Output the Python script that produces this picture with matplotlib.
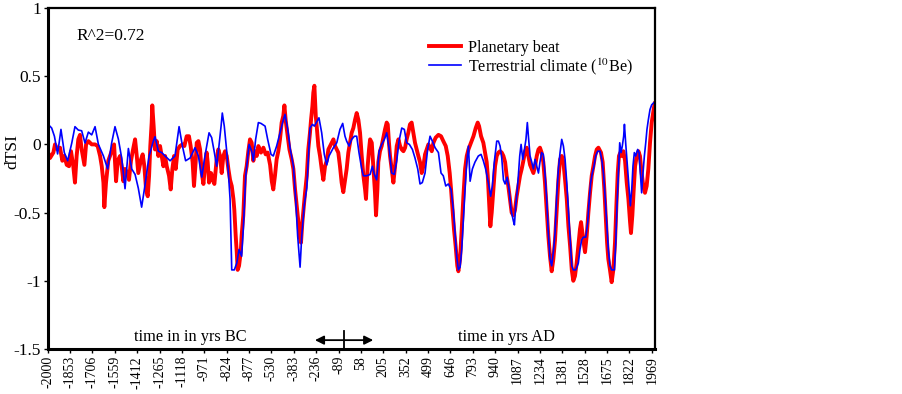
import matplotlib
matplotlib.use("Agg")
import matplotlib.pyplot as plt
import numpy as np

plt.rcParams['font.family'] = ['Liberation Serif', 'DejaVu Serif']
plt.rcParams['mathtext.fontset'] = 'stix'

# (year, dTSI)
planetary_beat = [
    (-2000, -0.05), (-1985, -0.10), (-1963, -0.06), (-1952, 0.0), (-1935, -0.037), (-1919, -0.024),
    (-1904, -0.12), (-1891, -0.085), (-1875, -0.15), (-1860, -0.16), (-1847, -0.05), (-1832, -0.16),
    (-1821, -0.28), (-1810, -0.085), (-1799, 0.037), (-1788, 0.07), (-1777, -0.037), (-1759, -0.15),
    (-1748, 0.0), (-1733, 0.024), (-1711, 0.0), (-1689, 0.0), (-1672, -0.012), (-1656, -0.085),
    (-1645, -0.16), (-1634, -0.28), (-1628, -0.46), (-1617, -0.28), (-1602, -0.12), (-1580, -0.05),
    (-1564, 0.0), (-1551, -0.27), (-1540, -0.12), (-1525, -0.085), (-1514, -0.16), (-1503, -0.27),
    (-1492, -0.18), (-1481, -0.20), (-1466, -0.26), (-1453, -0.12), (-1437, -0.024), (-1426, 0.037),
    (-1415, -0.085), (-1405, -0.21), (-1387, -0.11), (-1376, -0.073), (-1365, -0.16), (-1354, -0.33),
    (-1343, -0.38), (-1334, -0.23), (-1326, -0.012), (-1317, 0.16), (-1313, 0.286), (-1304, 0.134),
    (-1295, -0.037), (-1284, 0.024), (-1273, -0.085), (-1262, -0.012), (-1251, -0.085), (-1240, -0.16),
    (-1229, -0.085), (-1218, -0.16), (-1203, -0.23), (-1192, -0.33), (-1181, -0.18), (-1170, -0.085),
    (-1159, -0.18), (-1146, -0.037), (-1131, -0.012), (-1115, 0.0), (-1102, -0.012), (-1087, 0.06),
    (-1072, 0.06), (-1061, -0.012), (-1048, -0.13), (-1039, -0.305), (-1028, -0.13),
    (-1021, 0.012), (-1010, 0.024), (-999, -0.037), (-988, -0.21), (-977, -0.29), (-967, -0.16),
    (-956, -0.06), (-949, -0.13), (-940, -0.28), (-927, -0.21), (-916, -0.26), (-905, -0.29),
    (-890, -0.11), (-879, -0.037), (-868, -0.085), (-857, -0.21), (-846, -0.085), (-835, -0.05),
    (-824, -0.085), (-813, -0.18), (-802, -0.26), (-791, -0.305), (-780, -0.40), (-774, -0.48),
    (-765, -0.67), (-758, -0.79), (-752, -0.92), (-743, -0.89), (-732, -0.79), (-726, -0.67),
    (-715, -0.52), (-704, -0.23), (-693, -0.16), (-682, -0.05), (-671, 0.037), (-660, 0.012),
    (-649, -0.12), (-638, -0.05), (-627, -0.085), (-616, -0.012), (-599, -0.06), (-583, -0.024),
    (-568, -0.073), (-555, -0.06), (-539, -0.15), (-528, -0.27), (-518, -0.33), (-507, -0.23),
    (-496, -0.11), (-485, -0.05), (-474, 0.037), (-463, 0.16), (-452, 0.21), (-445, 0.286),
    (-436, 0.17), (-423, 0.06), (-412, -0.037), (-397, -0.11), (-386, -0.18), (-375, -0.33),
    (-364, -0.45), (-353, -0.57), (-347, -0.67), (-336, -0.72), (-327, -0.57), (-318, -0.46),
    (-309, -0.35), (-298, -0.23), (-288, -0.037), (-277, 0.085), (-270, 0.18), (-261, 0.28),
    (-255, 0.38), (-248, 0.43), (-239, 0.21), (-231, 0.11), (-222, -0.012), (-211, -0.085),
    (-200, -0.18), (-189, -0.26), (-178, -0.16), (-167, -0.12), (-156, -0.037), (-145, -0.012),
    (-134, 0.012), (-123, 0.037), (-112, -0.012), (-91, -0.06), (-80, -0.16), (-69, -0.28),
    (-58, -0.35), (-36, -0.18), (-25, -0.06), (-14, 0.012), (-3, 0.085), (8, 0.12), (19, 0.18),
    (30, 0.23), (41, 0.18), (52, 0.085), (63, -0.085), (74, -0.23), (85, -0.33), (91, -0.40),
    (102, -0.16), (111, -0.037), (118, 0.037), (129, 0.012), (140, -0.18), (146, -0.28),
    (150, -0.35), (157, -0.52), (166, -0.33), (172, -0.13), (183, -0.05), (194, -0.012),
    (205, 0.05), (216, 0.11), (227, 0.16), (234, 0.147), (242, 0.012), (249, -0.085),
    (260, -0.18), (271, -0.28), (282, -0.16), (293, -0.012), (304, 0.037), (315, -0.012),
    (326, -0.037), (337, -0.05), (348, -0.024), (358, 0.037), (369, 0.085), (380, 0.147),
    (391, 0.16), (402, 0.085), (413, 0.012), (424, -0.037), (435, -0.085), (446, -0.13),
    (457, -0.21), (468, -0.16), (479, -0.073), (490, -0.037), (501, 0.0), (512, -0.024),
    (523, -0.05), (534, 0.012), (549, 0.05), (567, 0.07), (584, 0.06), (599, 0.024),
    (615, -0.012), (628, -0.085), (641, -0.21), (650, -0.33), (658, -0.45), (669, -0.62),
    (680, -0.745), (691, -0.89), (698, -0.93), (709, -0.84), (720, -0.62), (731, -0.38),
    (742, -0.18), (753, -0.085), (764, -0.037), (781, 0.012), (797, 0.06), (812, 0.12),
    (825, 0.16), (834, 0.134), (847, 0.06), (862, 0.012), (873, -0.06), (884, -0.13),
    (891, -0.23), (899, -0.40), (908, -0.60), (917, -0.50), (928, -0.33), (939, -0.16),
    (950, -0.085), (961, -0.06), (972, -0.05), (983, -0.06), (994, -0.085), (1005, -0.13),
    (1015, -0.23), (1026, -0.305), (1037, -0.40), (1048, -0.50), (1059, -0.52), (1070, -0.48),
    (1081, -0.38), (1092, -0.305), (1103, -0.23), (1114, -0.18), (1125, -0.12), (1136, -0.05),
    (1147, -0.024), (1158, -0.085), (1169, -0.15), (1180, -0.18), (1191, -0.21), (1202, -0.16),
    (1213, -0.085), (1224, -0.037), (1234, -0.024), (1245, -0.06), (1256, -0.13), (1267, -0.28),
    (1278, -0.48), (1289, -0.67), (1300, -0.82), (1311, -0.93), (1322, -0.84), (1333, -0.70),
    (1344, -0.48), (1355, -0.26), (1366, -0.11), (1377, -0.085), (1388, -0.13), (1399, -0.26),
    (1410, -0.40), (1421, -0.60), (1432, -0.745), (1443, -0.92), (1453, -1.0), (1464, -0.965),
    (1475, -0.87), (1486, -0.745), (1497, -0.62), (1504, -0.57), (1513, -0.65), (1521, -0.72),
    (1530, -0.79), (1541, -0.67), (1552, -0.50), (1563, -0.355), (1574, -0.23), (1585, -0.16),
    (1596, -0.085), (1607, -0.037), (1618, -0.024), (1635, -0.06), (1646, -0.13), (1657, -0.33),
    (1666, -0.52), (1675, -0.72), (1683, -0.84), (1694, -0.92), (1705, -1.01), (1716, -0.92),
    (1727, -0.72), (1736, -0.45), (1745, -0.21), (1753, -0.085), (1762, -0.06), (1771, -0.085),
    (1782, -0.05), (1793, -0.12), (1804, -0.28), (1815, -0.40), (1826, -0.57), (1832, -0.65),
    (1841, -0.52), (1850, -0.33), (1859, -0.16), (1870, -0.085), (1881, -0.05), (1891, -0.085),
    (1902, -0.21), (1913, -0.305), (1924, -0.355), (1935, -0.305), (1946, -0.18), (1957, 0.012),
    (1968, 0.16), (1981, 0.256), (1988, 0.30),
]

terrestrial_climate = [
    (-2000, 0.15), (-1974, 0.12), (-1956, 0.06), (-1935, -0.07), (-1913, 0.11), (-1891, -0.06),
    (-1869, -0.12), (-1842, 0.01), (-1821, 0.13), (-1799, 0.105), (-1777, 0.10), (-1755, 0.01),
    (-1733, 0.09), (-1711, 0.07), (-1689, 0.13), (-1667, 0.0), (-1634, -0.085), (-1606, -0.18),
    (-1580, 0.01), (-1558, 0.13), (-1536, 0.04), (-1514, -0.10), (-1492, -0.325), (-1470, -0.03),
    (-1448, -0.18), (-1426, -0.22), (-1405, -0.32), (-1383, -0.46), (-1361, -0.30), (-1334, -0.085),
    (-1306, 0.025), (-1295, 0.056), (-1273, -0.05), (-1251, -0.06), (-1229, -0.085), (-1196, -0.12),
    (-1164, -0.085), (-1137, 0.13), (-1115, -0.012), (-1094, -0.12), (-1065, -0.10),
    (-1032, -0.024), (-1010, -0.085), (-988, -0.24), (-967, -0.085), (-940, 0.085), (-923, 0.05),
    (-905, -0.06), (-890, -0.16), (-875, -0.012), (-861, 0.134), (-853, 0.23), (-840, 0.134),
    (-824, -0.05), (-813, -0.21), (-802, -0.40), (-791, -0.92), (-774, -0.92), (-758, -0.87),
    (-743, -0.77), (-726, -0.82), (-715, -0.62), (-699, -0.23), (-677, 0.0), (-660, -0.05),
    (-649, -0.12), (-634, 0.037), (-616, 0.16), (-599, 0.154), (-572, 0.134), (-555, 0.037),
    (-533, -0.073), (-518, -0.085), (-496, -0.012), (-474, 0.085), (-452, 0.18), (-441, 0.22),
    (-423, 0.11), (-408, -0.024), (-386, -0.16), (-371, -0.40), (-358, -0.67), (-342, -0.90),
    (-331, -0.67), (-314, -0.44), (-298, -0.32), (-277, 0.12), (-261, 0.147), (-248, 0.134),
    (-235, 0.16), (-218, 0.195), (-200, 0.085), (-183, -0.073), (-167, -0.15), (-152, -0.085),
    (-123, -0.024), (-101, 0.012), (-80, 0.11), (-62, 0.154), (-47, 0.06), (-36, 0.024),
    (-20, -0.012), (-3, 0.037), (15, 0.06), (30, 0.06), (45, -0.06), (63, -0.18), (74, -0.23),
    (96, -0.23), (118, -0.22), (133, -0.16), (146, -0.22), (161, -0.26), (177, -0.05), (194, 0.0),
    (212, 0.037), (227, 0.085), (242, -0.024), (260, -0.21), (277, -0.22), (293, -0.12),
    (308, 0.024), (326, 0.12), (343, 0.11), (358, 0.012), (376, 0.0), (396, -0.037),
    (413, -0.10), (431, -0.18), (446, -0.29), (461, -0.28), (479, -0.21), (496, -0.037),
    (512, 0.06), (527, 0.024), (545, -0.024), (567, -0.06), (584, -0.21), (599, -0.23),
    (615, -0.305), (632, -0.29), (650, -0.33), (665, -0.48), (676, -0.65), (687, -0.82),
    (698, -0.92), (709, -0.90), (720, -0.77), (731, -0.55), (742, -0.33), (753, -0.13),
    (764, -0.012), (775, -0.27), (790, -0.18), (807, -0.13), (829, -0.085), (847, -0.073),
    (862, -0.12), (877, -0.18), (895, -0.28), (910, -0.38), (921, -0.305), (934, -0.13),
    (950, 0.024), (961, 0.024), (972, -0.012), (983, -0.10), (994, -0.26), (1005, -0.29),
    (1018, -0.24), (1031, -0.33), (1044, -0.48), (1059, -0.56), (1066, -0.59), (1075, -0.45),
    (1083, -0.355), (1092, -0.23), (1101, -0.085), (1110, 0.0), (1121, -0.11), (1132, -0.037),
    (1142, 0.037), (1151, 0.16), (1158, 0.06), (1169, -0.085), (1180, -0.13), (1191, -0.18),
    (1202, -0.11), (1213, -0.16), (1224, -0.21), (1234, -0.13), (1245, -0.06), (1256, -0.073),
    (1267, -0.21), (1278, -0.40), (1289, -0.65), (1300, -0.84), (1311, -0.89), (1322, -0.79),
    (1333, -0.65), (1344, -0.38), (1355, -0.18), (1366, -0.06), (1377, 0.037), (1388, -0.012),
    (1399, -0.11), (1410, -0.28), (1421, -0.48), (1432, -0.67), (1443, -0.89), (1453, -0.92),
    (1469, -0.92), (1486, -0.87), (1497, -0.77), (1508, -0.70), (1519, -0.68), (1535, -0.68),
    (1548, -0.57), (1556, -0.43), (1567, -0.28), (1578, -0.21), (1589, -0.16), (1600, -0.085),
    (1613, -0.05), (1629, -0.05), (1640, -0.11), (1651, -0.21), (1662, -0.38), (1672, -0.57),
    (1683, -0.77), (1694, -0.89), (1705, -0.92), (1723, -0.92), (1732, -0.72), (1740, -0.45),
    (1749, -0.21), (1758, 0.012), (1767, -0.06), (1775, -0.012), (1784, 0.06), (1789, 0.147),
    (1797, 0.012), (1810, -0.18), (1819, -0.305), (1828, -0.45), (1837, -0.33), (1845, -0.16),
    (1854, -0.06), (1863, -0.085), (1876, -0.037), (1885, -0.06), (1894, -0.21), (1902, -0.355),
    (1911, -0.21), (1920, -0.085), (1929, 0.012), (1937, 0.11), (1946, 0.18), (1957, 0.256),
    (1968, 0.29), (1981, 0.305), (1988, 0.31),
]

x_tick_labels = ['-2000', '-1853', '-1706', '-1559', '-1412', '-1265', '-1118', '-971',
                 '-824', '-877', '-530', '-383', '-236', '-89', '58', '205', '352', '499',
                 '646', '793', '940', '1087', '1234', '1381', '1528', '1675', '1822', '1969']
x_tick_start = -2000
x_tick_step = 147
y_ticks = [-1.5, -1, -0.5, 0, 0.5, 1]
y_tick_labels = ['-1.5', '-1', '-0.5', '0', '0.5', '1']

red_x, red_y = zip(*planetary_beat)
blue_x, blue_y = zip(*terrestrial_climate)

fig = plt.figure(figsize=(9.02, 3.94), dpi=100)
ax = fig.add_axes([0.0529, 0.1142, 0.6733, 0.8655])

ax.plot(red_x, red_y, color='#ff0000', lw=2.8, label='Planetary beat', solid_joinstyle='round')
ax.plot(blue_x, blue_y, color='#0000ff', lw=1.2, label='Terrestrial climate ($^{10}$Be)')

ax.set_xlim(-2000, 1990)
ax.set_ylim(-1.5, 1)
xt = [x_tick_start + i * x_tick_step for i in range(len(x_tick_labels))]
ax.set_xticks(xt)
ax.set_xticklabels(x_tick_labels, rotation=90, fontsize=10)
ax.set_yticks(y_ticks)
ax.set_yticklabels(y_tick_labels, fontsize=12.5)
ax.tick_params(axis='both', direction='out', length=3, width=1, pad=2)
for s in ax.spines.values():
    s.set_linewidth(1.6)
ax.spines['left'].set_linewidth(2.2)
ax.spines['bottom'].set_linewidth(2.2)

ax.set_ylabel('dTSI', fontsize=12.5)
ax.yaxis.set_label_coords(-0.045, 0.58)

ax.text(0.048, 0.918, 'R^2=0.72', transform=ax.transAxes, fontsize=12.5, va='center', ha='left')
ax.text(0.234, 0.036, 'time in in yrs BC', transform=ax.transAxes, fontsize=11.8, va='center', ha='center')
ax.text(0.756, 0.036, 'time in yrs AD', transform=ax.transAxes, fontsize=11.8, va='center', ha='center')

ax.annotate('', xy=(0.44, 0.026), xytext=(0.536, 0.026), xycoords='axes fraction',
            arrowprops=dict(arrowstyle='<|-|>', color='black', lw=1.3, mutation_scale=13,
                            shrinkA=0, shrinkB=0))
ax.plot([0.488, 0.488], [0.0, 0.052], transform=ax.transAxes, color='black', lw=1.3)

leg = ax.legend(loc='upper left', bbox_to_anchor=(0.617, 0.925), frameon=False, fontsize=11.6,
                handlelength=2.0, handletextpad=0.4, labelspacing=0.0, borderaxespad=0)

fig.savefig('out.png', dpi=100)
